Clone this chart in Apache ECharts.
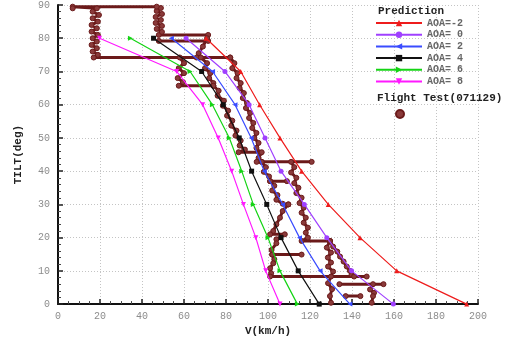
<!DOCTYPE html>
<html>
<head>
<meta charset="utf-8">
<script src="https://cdn.jsdelivr.net/npm/echarts@6/dist/echarts.min.js"></script>
<style>
  html, body { margin: 0; padding: 0; background: #fff; }
  #chart { width: 510px; height: 342px; }
</style>
</head>
<body>
<div id="chart"></div>
<script>
// Tilt stations (deg) at which the predictions are tabulated
const tilt = [0, 10, 20, 30, 40, 50, 60, 70, 80];

// Predicted speed V (km/h) for each angle of attack
const vAoaM2 = [194.6, 161.3, 143.8, 128.7, 116.0, 105.7, 96.0, 87.0, 70.5];
const vAoa0  = [159.7, 139.8, 128.0, 117.3, 106.2, 98.6, 91.0, 79.5, 61.0];
const vAoa2  = [139.0, 124.8, 115.0, 107.0, 98.2, 92.0, 84.3, 73.6, 54.0];
const vAoa4  = [124.4, 114.4, 106.2, 99.4, 92.2, 86.3, 78.7, 68.4, 45.5];
const vAoa6  = [114.0, 105.7, 100.0, 93.0, 87.5, 81.6, 73.5, 62.9, 34.5];
const vAoa8  = [105.7, 98.9, 94.2, 88.3, 82.7, 76.3, 68.9, 56.5, 19.8];

const predNames = ['AOA=-2', 'AOA= 0', 'AOA= 2', 'AOA= 4', 'AOA= 6', 'AOA= 8'];

// Flight test record 071129: [V (km/h), tilt (deg)] traces
const ftLoopTop = [[48,79.2],[71.5,79.2],[71.5,81],[48,81],[49.5,81.9],[47,82.8],[49.5,83.7],[46.5,84.6],[49,85.5],[46.5,86.4],[49.5,87.3],[47,88.2],[49,89.1],[47,89.5],[7,89.5],[7,89],[18.5,89],[16.5,88],[19.5,87],[16.5,86],[19,85],[16,84],[18.5,83],[16,82],[19,81],[16.5,80],[18.5,79],[16,78],[18.5,77],[16.5,76],[19,75],[17,74.2],[82,74.2]];
const ftLink = [[71,80],[69,77.5],[67,75.5],[66,74.2]];
const ftShelf = [[58,74.2],[60,72.5],[57.5,71],[60,69.5],[57,68],[59.5,66.8],[57.5,65.7],[74,65.7]];
const ftBandRight = [[82,74.2],[84,72.5],[83,71],[85.5,69.5],[85,68],[87,66.5],[86.5,65],[88.5,63.5],[88,62],[90,60.5],[89.5,59],[91.5,57.5],[91,56],[93,54.5],[92.5,53],[94.5,51.5],[93.5,50],[95.5,48.5],[94.5,47],[96.5,45.5],[95.5,44],[97,42.8]];
const ftBandLeft = [[68,74.2],[71,72.5],[70,71],[72.5,69.5],[72,68],[74,66.5],[74,65.7],[76.5,64.2],[76,62.7],[79,61.2],[78.5,59.7],[81,58.2],[80.5,56.7],[83,55.2],[82.5,53.7],[85,52.2],[84.5,50.7],[87,49.2],[86.5,47.7],[89,46.5],[86,45.7],[97,45.7]];
const ftBar43 = [[94.6,42.8],[120.8,42.8]];
const ftMidLeft = [[97,42.8],[99,41.2],[98,39.8],[100.5,38.4],[101,37],[109,37],[101,37],[103,35.6],[102,34.2],[104.5,32.8],[104,31.4],[107,30.2],[109.7,30]];
const ftMidRight = [[111,42.8],[112.5,41.2],[111,39.6],[113.5,38],[112.5,36.4],[114.5,35],[113.5,33.4],[116,32],[115,30.4],[117,29],[116,27.5],[118,26],[117,24.5],[119,23],[118,21.5],[119,20],[116,19],[129.5,19]];
const ftZigzag = [[109.7,30],[107,28],[105.7,26],[104,24],[102.5,22],[101,21],[108,21],[104,19.5],[104,18.3],[101.7,16.3],[102,14.9],[116,14.9],[102,14.9],[103,13.5],[102.5,12.3],[101,10.8],[101.5,9.3],[101,8.3],[147,8.3]];
const ftLowRight = [[129.5,19],[131,17.3],[133,15.8],[134.3,14.3],[136,12.8],[137.5,11.3],[139,10],[139.8,8.8],[141,8.3]];
const ftLowInner = [[129.5,19],[128,17],[130,15.5],[128.5,14],[130,12.5],[128.6,11.3],[131,9.8],[130,8.3],[128.6,6.3],[130.5,4.5],[129.5,2.4],[130,0.4]];
const ftTail = [[134,6],[155,6],[150,6],[148.6,4.4],[150.5,3.4],[150,2.4],[149.4,0.4]];
const ftStub = [[137,2.4],[144,2.4]];

const ftTraces = [ftLoopTop, ftLink, ftShelf, ftBandRight, ftBandLeft, ftBar43, ftMidLeft,
                  ftMidRight, ftZigzag, ftLowRight, ftLowInner, ftTail, ftStub];

const ftName = 'Flight Test(071129)';
const ftColor = '#6b1a1a';
const mono = '"Liberation Mono", "DejaVu Sans Mono", monospace';

const predStyles = [
  { color: '#ee1c1c', symbol: 'triangle', rotate: 0 },
  { color: '#a040ff', symbol: 'circle', rotate: 0 },
  { color: '#3a4cff', symbol: 'triangle', rotate: 90 },
  { color: '#111111', symbol: 'rect', rotate: 0 },
  { color: '#14d414', symbol: 'triangle', rotate: -90 },
  { color: '#ff19ff', symbol: 'triangle', rotate: 180 }
];
const predValues = [vAoaM2, vAoa0, vAoa2, vAoa4, vAoa6, vAoa8];

const series = [];

ftTraces.forEach(function (trace) {
  series.push({
    name: ftName,
    type: 'line',
    data: trace,
    symbol: 'circle',
    symbolSize: 5,
    showSymbol: true,
    lineStyle: { color: ftColor, width: 3 },
    itemStyle: { color: '#8a3a3a', borderColor: ftColor, borderWidth: 1 },
    z: 3,
    animation: false
  });
});

predValues.forEach(function (vals, k) {
  const st = predStyles[k];
  series.push({
    name: predNames[k],
    type: 'line',
    data: tilt.map(function (t, i) { return [vals[i], t]; }),
    symbol: st.symbol,
    symbolRotate: st.rotate,
    symbolSize: 5,
    lineStyle: { color: st.color, width: 1.2 },
    itemStyle: { color: st.color },
    z: 4,
    animation: false
  });
});

const chart = echarts.init(document.getElementById('chart'), null, { renderer: 'canvas' });

chart.setOption({
  backgroundColor: '#ffffff',
  animation: false,
  grid: { left: 58, right: 32, top: 5, bottom: 34, containLabel: false },
  xAxis: {
    type: 'value',
    min: 0, max: 200, interval: 20,
    name: 'V(km/h)',
    nameLocation: 'middle',
    nameGap: 20,
    nameTextStyle: { fontFamily: mono, fontWeight: 'bold', fontSize: 11, color: '#222' },
    axisLine: { lineStyle: { color: '#111', width: 2 } },
    axisTick: { inside: true, length: 5, lineStyle: { color: '#222', width: 1.5 } },
    minorTick: { show: true, splitNumber: 4, length: 3, lineStyle: { color: '#444' } },
    axisLabel: { fontFamily: mono, fontSize: 10, color: '#8c8c8c', margin: 7 },
    splitLine: { show: true, lineStyle: { color: '#c4c4c4', type: [1, 2], width: 1 } }
  },
  yAxis: {
    type: 'value',
    min: 0, max: 90, interval: 10,
    name: 'TILT(deg)',
    nameLocation: 'middle',
    nameGap: 34,
    nameTextStyle: { fontFamily: mono, fontWeight: 'bold', fontSize: 11, color: '#222' },
    axisLine: { show: true, lineStyle: { color: '#111', width: 2 } },
    axisTick: { show: true, inside: true, length: 5, lineStyle: { color: '#222', width: 1.5 } },
    minorTick: { show: true, splitNumber: 5, length: 3, lineStyle: { color: '#444' } },
    axisLabel: { fontFamily: mono, fontSize: 10, color: '#8c8c8c', margin: 8 },
    splitLine: { show: true, lineStyle: { color: '#c4c4c4', type: [1, 2], width: 1 } }
  },
  legend: [
    {
      data: predNames,
      orient: 'vertical',
      left: 375, top: 18,
      padding: 0,
      itemWidth: 46, itemHeight: 8, itemGap: 1.7,
      backgroundColor: 'transparent',
      textStyle: { fontFamily: mono, fontSize: 10, lineHeight: 10, color: '#666', fontWeight: 'bold' },
      selectedMode: false
    },
    {
      data: [{ name: ftName, icon: 'circle' }],
      left: 395, top: 109,
      padding: 0,
      itemWidth: 8, itemHeight: 8,
      formatter: function () { return ''; },
      selectedMode: false
    }
  ],
  graphic: [
    { type: 'text', left: 378, top: 6, style: { text: 'Prediction', font: 'bold 11px ' + mono, fill: '#222' } },
    { type: 'text', left: 377, top: 93, style: { text: ftName, font: 'bold 11px ' + mono, fill: '#222' } }
  ],
  series: series
});
</script>
</body>
</html>
